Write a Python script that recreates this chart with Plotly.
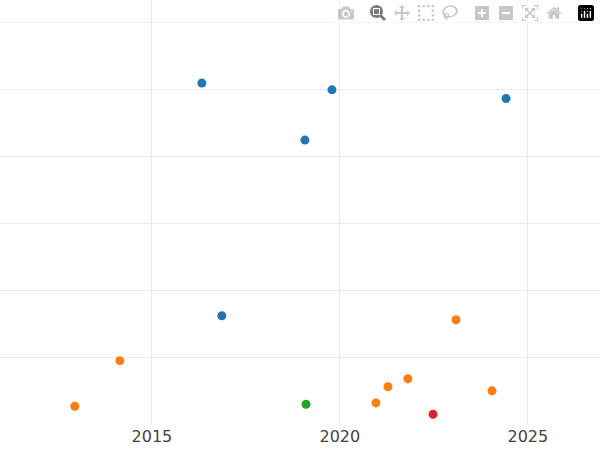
import plotly.graph_objects as go

blue_x = [2016.33, 2019.79, 2024.42, 2019.07, 2016.86]
blue_y = [5.10, 5.00, 4.87, 4.25, 1.63]
orange_x = [2012.95, 2014.15, 2020.96, 2021.28, 2021.81, 2023.09, 2024.05]
orange_y = [0.28, 0.96, 0.33, 0.57, 0.69, 1.57, 0.51]
green_x = [2019.10]
green_y = [0.31]
red_x = [2022.48]
red_y = [0.16]

fig = go.Figure()
for xs, ys, c in [(blue_x, blue_y, "#1f77b4"), (orange_x, orange_y, "#ff7f0e"),
                  (green_x, green_y, "#2ca02c"), (red_x, red_y, "#d62728")]:
    fig.add_trace(go.Scatter(x=xs, y=ys, mode="markers", marker=dict(color=c, size=9)))

fig.update_layout(
    width=600, height=450, template="plotly_white", showlegend=False,
    font=dict(family="DejaVu Sans"),
    margin=dict(l=0, r=0, t=0, b=25),
    xaxis=dict(range=[2010.96, 2026.92], tickvals=[2015, 2020, 2025], gridcolor="#ebebeb",
               tickfont=dict(size=16, color="#444"), showline=False, zeroline=False),
    yaxis=dict(range=[0, 6.34], tickvals=[1, 2, 3, 4, 5, 6], showticklabels=False,
               zeroline=False, gridcolor="#ebebeb"),
)
fig.write_html("out.html", post_script="document.body.style.margin='0';")
